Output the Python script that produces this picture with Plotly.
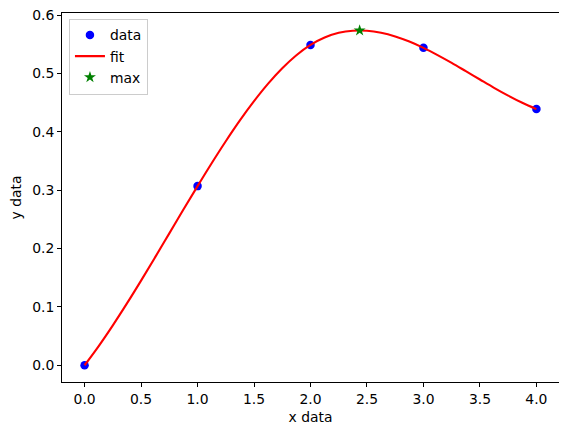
import plotly.graph_objects as go

# data points
x_data = [0, 1, 2, 3, 4]
y_data = [0.0, 0.307, 0.549, 0.544, 0.439]

# fitted curve
x_fit = [0, 0.125, 0.25, 0.375, 0.5, 0.625, 0.75, 0.875,
         1.0, 1.125, 1.25, 1.375, 1.5, 1.625, 1.75, 1.875,
         2.0, 2.125, 2.25, 2.375, 2.5, 2.625, 2.75, 2.875,
         3.0, 3.125, 3.25, 3.375, 3.5, 3.625, 3.75, 3.875, 4.0]
y_fit = [0.0, 0.0329, 0.0684, 0.1060, 0.1451, 0.1853, 0.2260, 0.2668,
         0.307, 0.3462, 0.3839, 0.4196, 0.4526, 0.4826, 0.5090, 0.5313,
         0.549, 0.5617, 0.5697, 0.5734, 0.5733, 0.5699, 0.5636, 0.5548,
         0.544, 0.5316, 0.5182, 0.5040, 0.4897, 0.4755, 0.4621, 0.4498, 0.439]

# maximum
x_max = [2.435]
y_max = [0.5738]

x_ticks = [0, 0.5, 1.0, 1.5, 2.0, 2.5, 3.0, 3.5, 4.0]
y_ticks = [0.0, 0.1, 0.2, 0.3, 0.4, 0.5, 0.6]

FONT = "DejaVu Sans"
FS = 13.9

fig = go.Figure()
fig.add_trace(go.Scatter(x=x_data, y=y_data, mode="markers", name="data",
                         marker=dict(color="#0000ff", size=8.5, line=dict(width=0))))
fig.add_trace(go.Scatter(x=x_fit, y=y_fit, mode="lines", name="fit",
                         line=dict(color="#ff0000", width=2.1, shape="spline", smoothing=1)))
fig.add_trace(go.Scatter(x=x_max, y=y_max, mode="markers", name="max",
                         marker=dict(color="#008000", symbol="star", size=9, line=dict(width=0))))

axis_common = dict(showgrid=False, zeroline=False, showline=True, linecolor="black",
                   linewidth=1, mirror=True, ticks="outside", ticklen=4, tickwidth=1,
                   tickcolor="black", tickfont=dict(family=FONT, size=FS, color="black"),
                   tickformat=".1f", automargin=False, ticklabeloverflow="allow")

# the page body adds an 8px offset, so the figure is sized/margined to compensate
fig.update_layout(
    width=559, height=428,
    margin=dict(l=54, r=8, t=5, b=54),
    paper_bgcolor="white", plot_bgcolor="white",
    font=dict(family=FONT, size=FS, color="black"),
    xaxis=dict(range=[-0.2, 4.2], tickvals=x_ticks,
               title=dict(text="x data", font=dict(family=FONT, size=FS), standoff=6),
               **axis_common),
    yaxis=dict(range=[-0.0287, 0.6037], tickvals=y_ticks,
               title=dict(text="y data", font=dict(family=FONT, size=FS), standoff=8),
               **axis_common),
    legend=dict(x=0.014, y=0.985, xanchor="left", yanchor="top",
                bgcolor="rgba(255,255,255,0.8)", bordercolor="#cccccc", borderwidth=1,
                font=dict(family=FONT, size=FS), tracegroupgap=0, itemwidth=30),
    showlegend=True,
)

fig.write_html("out.html")
